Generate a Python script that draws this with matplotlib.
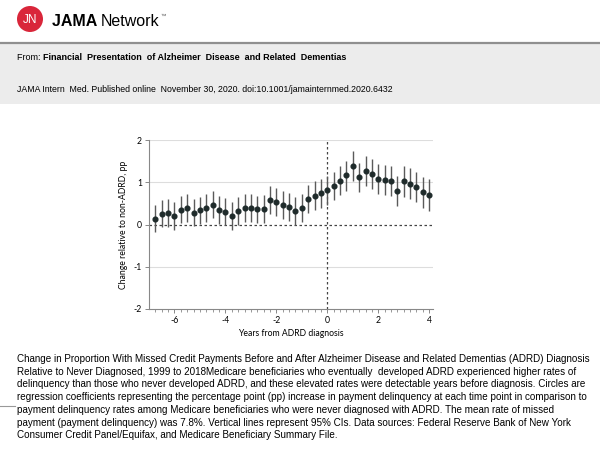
import numpy as np
import matplotlib.pyplot as plt
from matplotlib.patches import Circle, Rectangle
from matplotlib.lines import Line2D

# years from diagnosis, quarterly
years = np.arange(-6.75, 4.01, 0.25)

# point estimates (pp)
coef = [0.14, 0.25, 0.28, 0.21, 0.35, 0.39, 0.28, 0.34, 0.39, 0.47,
        0.34, 0.30, 0.21, 0.31, 0.40, 0.40, 0.36, 0.37, 0.59, 0.54,
        0.46, 0.42, 0.32, 0.40, 0.60, 0.68, 0.74, 0.81, 0.91, 1.04,
        1.16, 1.39, 1.12, 1.27, 1.20, 1.08, 1.06, 1.03, 0.79, 1.02,
        0.97, 0.89, 0.77, 0.71]
# 95% CI bounds
ci_low = [-0.17, -0.07, -0.05, -0.12, 0.03, 0.07, -0.04, 0.02, 0.07, 0.15,
          0.01, -0.02, -0.12, -0.01, 0.07, 0.07, 0.03, 0.04, 0.26, 0.21,
          0.13, 0.09, -0.01, 0.07, 0.27, 0.35, 0.40, 0.47, 0.57, 0.70,
          0.80, 1.02, 0.76, 0.90, 0.84, 0.72, 0.69, 0.67, 0.43, 0.66,
          0.61, 0.53, 0.40, 0.33]
ci_high = [0.47, 0.57, 0.60, 0.53, 0.68, 0.72, 0.60, 0.66, 0.72, 0.80,
           0.67, 0.63, 0.54, 0.64, 0.73, 0.73, 0.68, 0.70, 0.92, 0.87,
           0.79, 0.75, 0.64, 0.73, 0.93, 1.02, 1.08, 1.15, 1.25, 1.38,
           1.51, 1.75, 1.46, 1.63, 1.56, 1.44, 1.42, 1.39, 1.15, 1.38,
           1.33, 1.25, 1.13, 1.08]

caption = [
    "Change in Proportion With Missed Credit Payments Before and After Alzheimer Disease and Related Dementias (ADRD) Diagnosis",
    "Relative to Never Diagnosed, 1999 to 2018Medicare beneficiaries who eventually  developed ADRD experienced higher rates of",
    "delinquency than those who never developed ADRD, and these elevated rates were detectable years before diagnosis. Circles are",
    "regression coefficients representing the percentage point (pp) increase in payment delinquency at each time point in comparison to",
    "payment delinquency rates among Medicare beneficiaries who were never diagnosed with ADRD. The mean rate of missed",
    "payment (payment delinquency) was 7.8%. Vertical lines represent 95% CIs. Data sources: Federal Reserve Bank of New York",
    "Consumer Credit Panel/Equifax, and Medicare Beneficiary Summary File.",
]

W, H = 600, 450
fig = plt.figure(figsize=(6, 4.5), dpi=100)
renderer = fig.canvas.get_renderer()

def fx(x):
    return x / W

def fy(y):
    return 1 - y / H

def right_px(t):
    # right edge of a text in pixels
    return t.get_window_extent(renderer).x1

# header: band and rule
fig.patches.append(Rectangle((0, fy(104)), 1, fy(44) - fy(104), transform=fig.transFigure,
                             facecolor='#ececec', edgecolor='none', zorder=0))
fig.lines.append(Line2D([0, 1], [fy(43), fy(43)], transform=fig.transFigure,
                        color='#8f8f8f', linewidth=1.6))
# short rule at the left of the caption
fig.lines.append(Line2D([0, fx(15)], [fy(406), fy(406)], transform=fig.transFigure,
                        color='#999999', linewidth=0.8))

# logo (own small axes so the circle stays round)
lax = fig.add_axes([fx(17), fy(32), 26 / W, 26 / H])
lax.add_patch(Circle((0.5, 0.5), 0.5, facecolor='#d9263a', edgecolor='none'))
lax.text(0.5, 0.48, 'JN', color='white', ha='center', va='center', fontsize=8.5,
         family='Liberation Sans')
lax.set_xlim(0, 1)
lax.set_ylim(0, 1)
lax.axis('off')

t1 = fig.text(fx(52), fy(21), 'JAMA ', fontsize=11.5, fontweight='bold', va='center',
              family='Liberation Sans')
t2 = fig.text(right_px(t1) / W, fy(21), 'Network', fontsize=11.5, va='center',
              family='Liberation Sans')
fig.text((right_px(t2) + 1) / W, fy(16), '\u2122', fontsize=4, va='center', color='#555555',
         family='Liberation Sans')

t3 = fig.text(fx(17), fy(57), 'From: ', fontsize=6.5, va='center', family='Liberation Sans')
fig.text(right_px(t3) / W, fy(57),
         'Financial  Presentation  of Alzheimer  Disease  and Related  Dementias',
         fontsize=6.5, fontweight='bold', va='center', family='Liberation Sans')
fig.text(fx(17), fy(89), 'JAMA Intern  Med. Published online  November 30, 2020. doi:10.1001/jamainternmed.2020.6432',
         fontsize=6.3, va='center', family='Liberation Sans')

# chart
ax = fig.add_axes([fx(149), fy(309), (433 - 149) / W, (309 - 140) / H])
for v in [-1, 1, 2]:
    ax.axhline(v, color='#dddddd', linewidth=0.8, zorder=0)
ax.axhline(0, color='#444444', linewidth=0.9, linestyle=(0, (2, 2)), zorder=1)
ax.axvline(0, color='#444444', linewidth=0.9, linestyle=(0, (2, 2)), zorder=1)

ax.vlines(years, ci_low, ci_high, color='#5a5a5a', linewidth=1.0, zorder=2)
ax.plot(years, coef, 'o', color='#1f2b2b', markersize=3.4, zorder=3)

ax.set_xlim(-7, 4.15)
ax.set_ylim(-2, 2)
ax.set_xticks([-6, -4, -2, 0, 2, 4])
ax.set_xticks(np.arange(-6.75, 4.01, 0.25), minor=True)
ax.set_yticks([-2, -1, 0, 1, 2])
for s in ['top', 'right']:
    ax.spines[s].set_visible(False)
for s in ['left', 'bottom']:
    ax.spines[s].set_color('#888888')
    ax.spines[s].set_linewidth(0.8)
ax.tick_params(axis='both', which='major', length=3, width=0.7, color='#888888',
               labelsize=6.2, pad=2)
ax.tick_params(axis='x', which='minor', length=2, width=0.6, color='#888888')
ax.set_xticklabels(['-6', '-4', '-2', '0', '2', '4'], family='Lato')
ax.set_yticklabels(['-2', '-1', '0', '1', '2'], family='Lato')
ax.set_xlabel('Years from ADRD diagnosis', fontsize=6.2, family='Lato', labelpad=3)
ax.set_ylabel('Change relative to non-ADRD, pp', fontsize=6.2, family='Lato', labelpad=4)

# caption
for i, line in enumerate(caption):
    fig.text(fx(17), fy(359 + i * 12.7), line, fontsize=7.1, va='center',
             family='Liberation Sans')

plt.savefig('out.png', dpi=100)
